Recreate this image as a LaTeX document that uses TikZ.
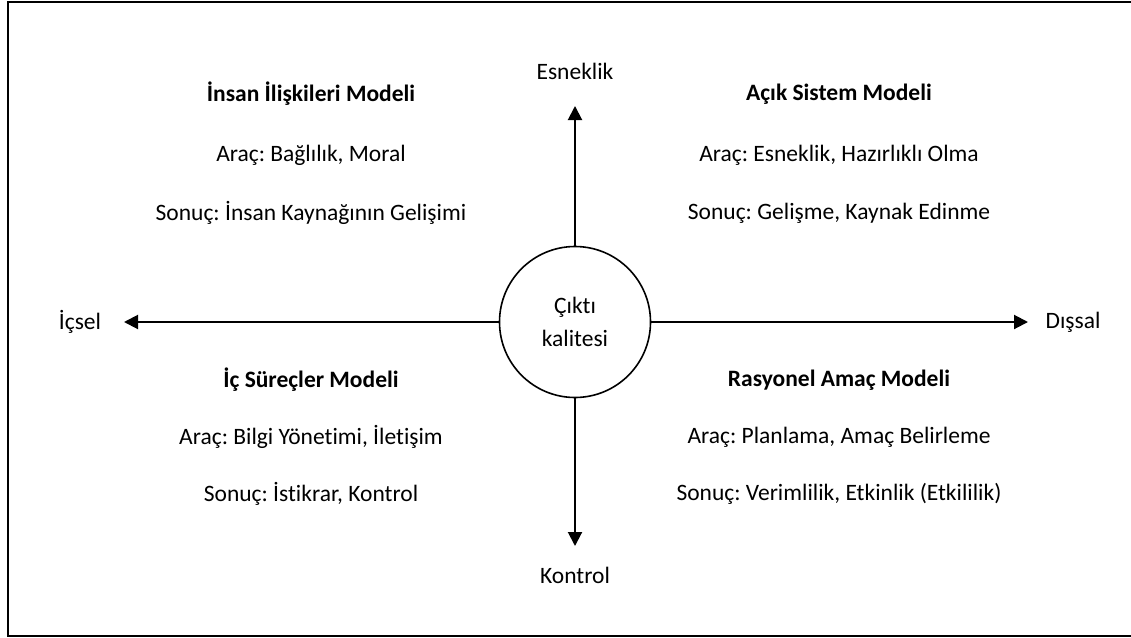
\documentclass[tikz,border=0pt]{standalone}
\usepackage{fontspec}
\setmainfont{Carlito}[Ligatures=NoCommon]
\frenchspacing
\usetikzlibrary{arrows.meta}
\begin{document}
\begin{tikzpicture}[x=1pt,y=-1pt,
  lbl/.style={font=\fontsize{23.5}{28}\selectfont, inner sep=0pt, anchor=center},
  head/.style={lbl, font=\fontsize{23.5}{28}\selectfont\bfseries},
  axis/.style={line width=2pt, -{Triangle[length=14pt,width=14pt]}}]
  \useasboundingbox (0,0) rectangle (1131,637);
  % outer frame
  \draw[line width=2.2pt] (8,2) -- (1140,2);
  \draw[line width=2.2pt] (8,1) -- (8,636) -- (1140,636);
  % centre
  \node[draw, circle, line width=1.6pt, minimum size=151pt, inner sep=0pt,
        align=center, font=\fontsize{23.5}{33}\selectfont] (c) at (575,322) {Çıktı\\kalitesi};
  % axis end labels
  \node[lbl] (up) at (575,71) {Esneklik};
  \node[lbl] (dn) at (575,575) {Kontrol};
  \node[lbl] (lt) at (80,322) {İçsel};
  \node[lbl] (rt) at (1073,322) {Dışsal};
  \coordinate (upT) at (575,106);
  \coordinate (dnT) at (575,546);
  \coordinate (ltT) at (124,322);
  \coordinate (rtT) at (1028,322);
  \draw[axis] (c.north) -- (upT);
  \draw[axis] (c.south) -- (dnT);
  \draw[axis] (c.west) -- (ltT);
  \draw[axis] (c.east) -- (rtT);
  % quadrant texts
  \node[head] (q1h) at (311,94) {İnsan İlişkileri Modeli};
  \node[lbl] (q1a) at (311,155) {Araç: Bağlılık, Moral};
  \node[lbl] (q1s) at (311,213) {Sonuç: İnsan Kaynağının Gelişimi};
  \node[head] (q2h) at (839,94) {Açık Sistem Modeli};
  \node[lbl] (q2a) at (839,155) {Araç: Esneklik, Hazırlıklı Olma};
  \node[lbl] (q2s) at (839,213) {Sonuç: Gelişme, Kaynak Edinme};
  \node[head] (q3h) at (311,380) {İç Süreçler Modeli};
  \node[lbl] (q3a) at (311,437) {Araç: Bilgi Yönetimi, İletişim};
  \node[lbl] (q3s) at (311,494) {Sonuç: İstikrar, Kontrol};
  \node[head] (q4h) at (839,380) {Rasyonel Amaç Modeli};
  \node[lbl] (q4a) at (839,437) {Araç: Planlama, Amaç Belirleme};
  \node[lbl] (q4s) at (839,494) {Sonuç: Verimlilik, Etkinlik (Etkililik)};
\end{tikzpicture}
\end{document}
